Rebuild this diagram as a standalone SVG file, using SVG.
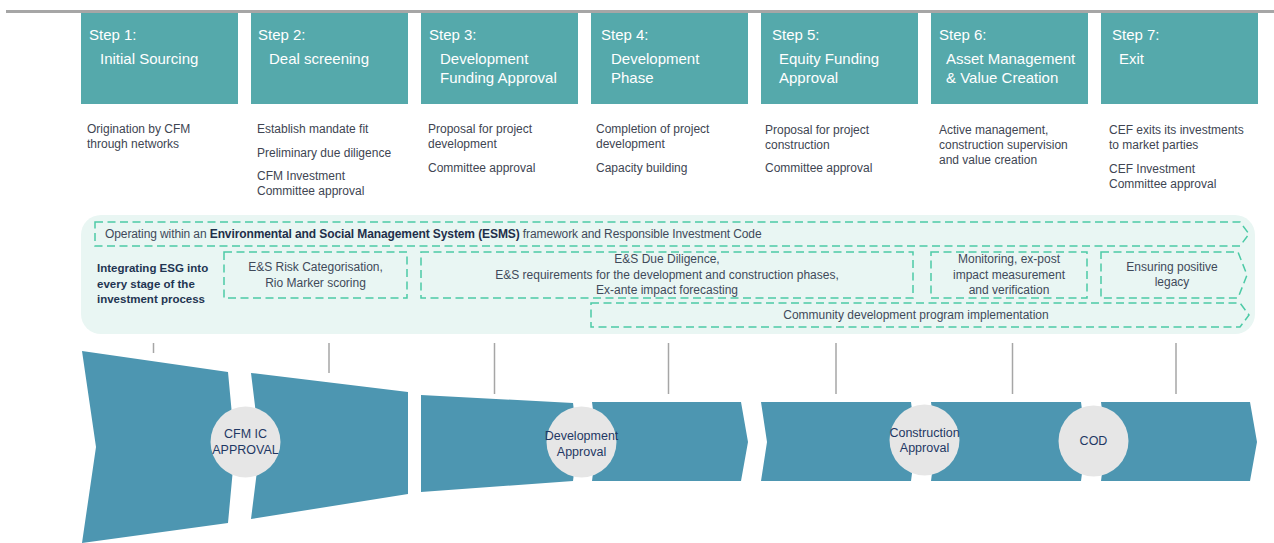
<svg xmlns="http://www.w3.org/2000/svg" width="1274" height="543" viewBox="0 0 1274 543">
  <style>
    text { font-family: "Liberation Sans", Arial, sans-serif; }
    .step { fill: #55a9ab; }
    .head { fill: #ffffff; font-size: 15px; }
    .desc { fill: #404552; font-size: 12px; }
    .dash { fill: none; stroke: #4ccaa6; stroke-width: 1.5; stroke-dasharray: 8 4.5; }
    .esg { fill: #3f4a5a; font-size: 12px; }
    .esgc { fill: #3f4a5a; font-size: 12px; text-anchor: middle; }
    .lead { fill: #1f3552; font-size: 11.5px; font-weight: bold; }
    .band { fill: #4d96b1; }
    .tick { stroke: #a6a6a6; stroke-width: 1.5; }
    .gate { fill: #e6e6e6; }
    .gatet { fill: #1f3864; font-size: 12.5px; text-anchor: middle; }
  </style>

  <!-- top rule -->
  <rect x="6" y="10" width="1268" height="3" fill="#a6a6a6"/>

  <!-- step headers -->
  <g id="step1">
    <rect class="step" x="81" y="13" width="157" height="91"/>
    <text class="head" x="89" y="40">Step 1:</text>
    <text class="head" x="100" y="64">Initial Sourcing</text>
    <text class="desc" x="87" y="133">Origination by CFM</text>
    <text class="desc" x="87" y="148">through networks</text>
  </g>
  <g id="step2">
    <rect class="step" x="251" y="13" width="157" height="91"/>
    <text class="head" x="258" y="40">Step 2:</text>
    <text class="head" x="269" y="64">Deal screening</text>
    <text class="desc" x="257" y="133">Establish mandate fit</text>
    <text class="desc" x="257" y="157">Preliminary due diligence</text>
    <text class="desc" x="257" y="180">CFM Investment</text>
    <text class="desc" x="257" y="195">Committee approval</text>
  </g>
  <g id="step3">
    <rect class="step" x="421" y="13" width="157" height="91"/>
    <text class="head" x="429" y="40">Step 3:</text>
    <text class="head" x="440" y="64">Development</text>
    <text class="head" x="440" y="83">Funding Approval</text>
    <text class="desc" x="428" y="133">Proposal for project</text>
    <text class="desc" x="428" y="148">development</text>
    <text class="desc" x="428" y="172">Committee approval</text>
  </g>
  <g id="step4">
    <rect class="step" x="591" y="13" width="157" height="91"/>
    <text class="head" x="601" y="40">Step 4:</text>
    <text class="head" x="611" y="64">Development</text>
    <text class="head" x="611" y="83">Phase</text>
    <text class="desc" x="596" y="133">Completion of project</text>
    <text class="desc" x="596" y="148">development</text>
    <text class="desc" x="596" y="172">Capacity building</text>
  </g>
  <g id="step5">
    <rect class="step" x="761" y="13" width="157" height="91"/>
    <text class="head" x="772" y="40">Step 5:</text>
    <text class="head" x="779" y="64">Equity Funding</text>
    <text class="head" x="779" y="83">Approval</text>
    <text class="desc" x="765" y="134">Proposal for project</text>
    <text class="desc" x="765" y="149">construction</text>
    <text class="desc" x="765" y="172">Committee approval</text>
  </g>
  <g id="step6">
    <rect class="step" x="931" y="13" width="157" height="91"/>
    <text class="head" x="939" y="40">Step 6:</text>
    <text class="head" x="946" y="64">Asset Management</text>
    <text class="head" x="946" y="83">&amp; Value Creation</text>
    <text class="desc" x="939" y="134">Active management,</text>
    <text class="desc" x="939" y="149">construction supervision</text>
    <text class="desc" x="939" y="164">and value creation</text>
  </g>
  <g id="step7">
    <rect class="step" x="1101" y="13" width="157" height="91"/>
    <text class="head" x="1112" y="40">Step 7:</text>
    <text class="head" x="1119" y="64">Exit</text>
    <text class="desc" x="1109" y="134">CEF exits its investments</text>
    <text class="desc" x="1109" y="149">to market parties</text>
    <text class="desc" x="1109" y="173">CEF Investment</text>
    <text class="desc" x="1109" y="188">Committee approval</text>
  </g>

  <!-- ESG band -->
  <g id="esg-panel">
    <rect x="81" y="215" width="1174" height="119" rx="20" fill="#e9f6f3"/>
    <text class="lead" x="97" y="272">Integrating ESG into</text>
    <text class="lead" x="97" y="288">every stage of the</text>
    <text class="lead" x="97" y="303">investment process</text>
  </g>
  <g id="esms">
    <path class="dash" d="M95 222 H1240 L1249 234 L1240 246 H95 Z"/>
    <text class="esg" x="105" y="238" letter-spacing="-0.1">Operating within an <tspan font-weight="bold" fill="#1f2f4a">Environmental and Social Management System (ESMS)</tspan> framework and Responsible Investment Code</text>
  </g>
  <g id="esg-screening">
    <rect class="dash" x="224" y="252" width="183" height="46"/>
    <text class="esgc" x="315.5" y="271">E&amp;S Risk Categorisation,</text>
    <text class="esgc" x="315.5" y="287">Rio Marker scoring</text>
  </g>
  <g id="esg-due-diligence">
    <rect class="dash" x="421" y="252" width="492" height="46"/>
    <text class="esgc" x="667" y="263">E&amp;S Due Diligence,</text>
    <text class="esgc" x="667" y="279">E&amp;S requirements for the development and construction phases,</text>
    <text class="esgc" x="667" y="294">Ex-ante impact forecasting</text>
  </g>
  <g id="esg-monitoring">
    <rect class="dash" x="931" y="252" width="156" height="46"/>
    <text class="esgc" x="1009" y="263">Monitoring, ex-post</text>
    <text class="esgc" x="1009" y="279">impact measurement</text>
    <text class="esgc" x="1009" y="294">and verification</text>
  </g>
  <g id="esg-legacy">
    <path class="dash" d="M1101 252 H1238 L1247 275 L1238 298 H1101 Z"/>
    <text class="esgc" x="1172" y="271">Ensuring positive</text>
    <text class="esgc" x="1172" y="286">legacy</text>
  </g>
  <g id="esg-community">
    <path class="dash" d="M591 303 H1240 L1249 315 L1240 327 H591 Z"/>
    <text class="esgc" x="916" y="319">Community development program implementation</text>
  </g>

  <!-- stage markers -->
  <g id="connectors">
    <line class="tick" x1="153.5" y1="343" x2="153.5" y2="353"/>
    <line class="tick" x1="329" y1="343" x2="329" y2="373"/>
    <line class="tick" x1="494.5" y1="343" x2="494.5" y2="394"/>
    <line class="tick" x1="668.5" y1="343" x2="668.5" y2="394"/>
    <line class="tick" x1="836" y1="343" x2="836" y2="394"/>
    <line class="tick" x1="1012.5" y1="343" x2="1012.5" y2="394"/>
    <line class="tick" x1="1176" y1="343" x2="1176" y2="394"/>
  </g>

  <!-- funnel / pipeline -->
  <g id="pipeline">
    <polygon class="band" points="82,351 228,372 235,447 228,523 82,543 96,447"/>
    <polygon class="band" points="251,373 408,392 408,494 251,519 260,447"/>
    <polygon class="band" points="421,395 573,403 578,442 573,481 421,492"/>
    <polygon class="band" points="592,402 741,402 748,442 741,481 592,481 597,442"/>
    <polygon class="band" points="761,402 911,402 916,442 911,481 761,481 767,442"/>
    <polygon class="band" points="931,402 1081,402 1086,442 1081,481 931,481 936,442"/>
    <polygon class="band" points="1101,402 1250,402 1257,442 1250,481 1101,481 1106,442"/>
  </g>

  <g id="gate-cfm-ic">
    <ellipse class="gate" cx="245.5" cy="442" rx="35" ry="35.5"/>
    <text class="gatet" x="245.5" y="438" font-size="12">CFM IC</text>
    <text class="gatet" x="245.5" y="454" font-size="12">APPROVAL</text>
  </g>
  <g id="gate-development">
    <ellipse class="gate" cx="581.5" cy="442" rx="35" ry="35.5"/>
    <text class="gatet" x="581.5" y="440">Development</text>
    <text class="gatet" x="581.5" y="456">Approval</text>
  </g>
  <g id="gate-construction">
    <ellipse class="gate" cx="924.5" cy="440" rx="35" ry="35.5"/>
    <text class="gatet" x="924.5" y="437">Construction</text>
    <text class="gatet" x="924.5" y="452">Approval</text>
  </g>
  <g id="gate-cod">
    <ellipse class="gate" cx="1093.5" cy="441" rx="35" ry="35.5"/>
    <text class="gatet" x="1093.5" y="445">COD</text>
  </g>
</svg>
